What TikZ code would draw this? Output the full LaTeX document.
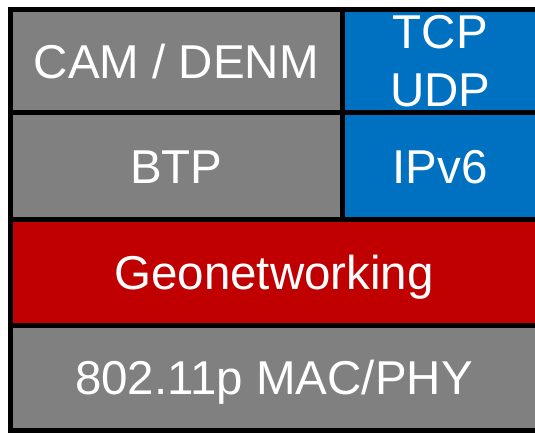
\documentclass[tikz,border=0pt]{standalone}
\usepackage{fontspec}
\setmainfont{Liberation Sans}
\definecolor{layergray}{HTML}{808080}
\definecolor{layerblue}{HTML}{0070C0}
\definecolor{layerred}{HTML}{C00000}
\begin{document}
\begin{tikzpicture}[x=1pt,y=-1pt,
  layer/.style={rectangle, draw=black, line width=5pt, inner sep=0pt, outer sep=0pt,
    anchor=north west, text=white, align=center,
    font=\fontsize{47.5}{58}\selectfont},
  oneline/.style={text height=34pt, text depth=0pt},
  graylayer/.style={layer, fill=layergray},
  bluelayer/.style={layer, fill=layerblue},
  redlayer/.style={layer, fill=layerred}]
  \useasboundingbox (0,0) rectangle (535,432);
  \clip (0,0) rectangle (535,432);
  % protocol stack cells
  \node[graylayer, oneline, minimum width=332.5pt, minimum height=103pt] (cam) at (10,9.5) {CAM / DENM};
  \node[bluelayer, minimum width=195.5pt, minimum height=103pt] (tcp) at (342.5,9.5) {TCP\\UDP};
  \node[graylayer, oneline, minimum width=332.5pt, minimum height=107pt] (btp) at (10,112.5) {BTP};
  \node[bluelayer, oneline, minimum width=195.5pt, minimum height=107pt] (ipv6) at (342.5,112.5) {IPv6};
  \node[redlayer, oneline, minimum width=528pt, minimum height=106pt] (geo) at (10,219.5) {Geonetworking};
  \node[graylayer, oneline, minimum width=528pt, minimum height=104.5pt] (mac) at (10,325.5) {802.11p MAC/PHY};
\end{tikzpicture}
\end{document}
